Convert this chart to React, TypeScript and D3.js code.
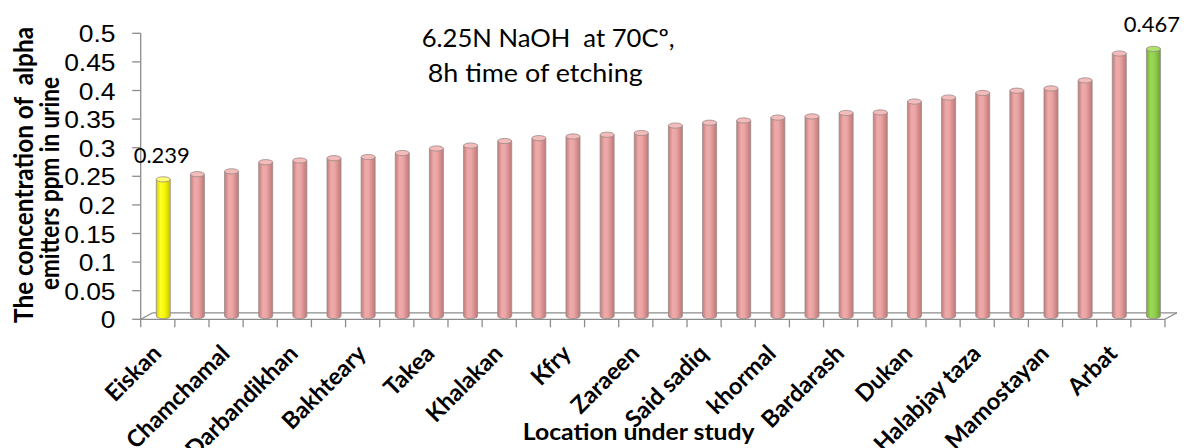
import React from 'react';
import * as d3 from 'd3';

const locations = [
  'Eiskan', '', 'Chamchamal', '', 'Darbandikhan', '', 'Bakhteary', '', 'Takea', '',
  'Khalakan', '', 'Kfry', '', 'Zaraeen', '', 'Said sadiq', '', 'khormal', '',
  'Bardarash', '', 'Dukan', '', 'Halabjay taza', '', 'Mamostayan', '', 'Arbat', '',
];

const concentrations = [
  0.239, 0.248, 0.253, 0.269, 0.272, 0.276, 0.278, 0.285, 0.293, 0.298,
  0.306, 0.311, 0.314, 0.317, 0.320, 0.333, 0.338, 0.342, 0.347, 0.349,
  0.355, 0.356, 0.375, 0.382, 0.390, 0.394, 0.398, 0.412, 0.459, 0.467,
];

const yTicks = [0, 0.05, 0.1, 0.15, 0.2, 0.25, 0.3, 0.35, 0.4, 0.45, 0.5];
const yTickLabels = ['0', '0.05', '0.1', '0.15', '0.2', '0.25', '0.3', '0.35', '0.4', '0.45', '0.5'];

const yTitleLines = ['The concentration of  alpha', 'emitters ppm in urine'];
const xTitle = 'Location under study';
const noteLines = ['6.25N NaOH  at 70Cº,', '8h time of etching'];

const W = 1190;
const H = 448;
const DX = 12;
const DY = -6.5;
const CAL = 'Lato, "Open Sans", sans-serif';
const ARIAL = '"Liberation Sans", Arial, sans-serif';
const PRE = { whiteSpace: 'pre' as const };

export default function App() {
  const idx = concentrations.map((_, i) => String(i));
  const x = d3.scaleBand<string>().domain(idx).range([140.7, 1165]).padding(0);
  const y = d3.scaleLinear().domain([0, 0.5]).range([319.3, 33.3]);
  const bw = x.bandwidth();
  const barW = 14;
  const rx = barW / 2;
  const ry = 2.6;
  const minV = d3.min(concentrations) as number;
  const maxV = d3.max(concentrations) as number;
  const x0 = x.range()[0];
  const x1 = x.range()[1];
  const y0 = y(0);
  const axisColor = '#8c8c8c';

  const kindOf = (v: number) => (v === minV ? 'yel' : v === maxV ? 'grn' : 'pnk');
  const topFill: Record<string, string> = { yel: '#ffff70', grn: '#aee36a', pnk: '#f3bcbb' };

  return (
    <svg width={W} height={H} style={{ position: 'absolute', left: 0, top: 0, background: '#fff' }}>
      <defs>
        <linearGradient id="pnk" x1="0" x2="1" y1="0" y2="0">
          <stop offset="0%" stopColor="#c07d7b" />
          <stop offset="30%" stopColor="#eeaaa9" />
          <stop offset="55%" stopColor="#eba5a4" />
          <stop offset="100%" stopColor="#bd7977" />
        </linearGradient>
        <linearGradient id="yel" x1="0" x2="1" y1="0" y2="0">
          <stop offset="0%" stopColor="#cfcf00" />
          <stop offset="30%" stopColor="#ffff2a" />
          <stop offset="60%" stopColor="#f7f700" />
          <stop offset="100%" stopColor="#c4c400" />
        </linearGradient>
        <linearGradient id="grn" x1="0" x2="1" y1="0" y2="0">
          <stop offset="0%" stopColor="#6fae33" />
          <stop offset="30%" stopColor="#9bd856" />
          <stop offset="60%" stopColor="#92d050" />
          <stop offset="100%" stopColor="#69a52f" />
        </linearGradient>
      </defs>

      {/* floor */}
      <g stroke={axisColor} strokeWidth={1.3} fill="none">
        <line x1={x0 + DX} y1={y0 + DY} x2={x1 + DX} y2={y0 + DY} />
        <line x1={x0} y1={y0} x2={x0 + DX} y2={y0 + DY} />
        <line x1={x1} y1={y0} x2={x1 + DX} y2={y0 + DY} />
      </g>

      {/* bars */}
      {concentrations.map((v, i) => {
        const cx = (x(String(i)) as number) + bw / 2 + DX / 2 - 0.5;
        const yb = y0 + DY / 2;
        const yt = y(v) + DY / 2;
        const k = kindOf(v);
        return (
          <g key={i}>
            <path
              d={`M${cx - rx},${yt} L${cx - rx},${yb} A${rx},${ry} 0 0 0 ${cx + rx},${yb} L${cx + rx},${yt} Z`}
              fill={`url(#${k})`}
              stroke="#9a8a8a"
              strokeWidth={0.8}
            />
            <ellipse cx={cx} cy={yt} rx={rx} ry={ry} fill={topFill[k]} stroke="#9a8a8a" strokeWidth={0.8} />
          </g>
        );
      })}

      {/* axes */}
      <g stroke={axisColor} strokeWidth={1.3} fill="none">
        <line x1={x0} y1={y(0.5)} x2={x0} y2={y0} />
        {yTicks.map((t) => (
          <line key={t} x1={x0 - 8.5} y1={y(t)} x2={x0} y2={y(t)} />
        ))}
        <line x1={x0} y1={y0} x2={x1} y2={y0} />
        {idx.map((d) => (
          <line key={d} x1={x(d) as number} y1={y0} x2={x(d) as number} y2={y0 + 8} />
        ))}
        <line x1={x1} y1={y0} x2={x1} y2={y0 + 8} />
      </g>

      {/* y tick labels */}
      {yTicks.map((t, i) => (
        <text
          key={t}
          transform={`translate(115.5,${y(t) + 9}) scale(1.1,1)`}
          textAnchor="end"
          fontFamily={ARIAL}
          fontSize={24}
          fill="#000"
        >
          {yTickLabels[i]}
        </text>
      ))}

      {/* x tick labels */}
      {locations.map((name, i) =>
        name ? (
          <text
            key={i}
            transform={`translate(${(x(String(i)) as number) + bw / 2 + 5},355) rotate(-45)`}
            textAnchor="end"
            fontFamily={CAL}
            fontWeight="bold"
            fontSize={23.5}
            fill="#000"
            style={PRE}
          >
            {name}
          </text>
        ) : null
      )}

      {/* data labels */}
      {concentrations.map((v, i) =>
        v === minV || v === maxV ? (
          <text
            key={i}
            x={(x(String(i)) as number) + bw / 2 + 4}
            y={y(v) - 20}
            textAnchor="middle"
            fontFamily={CAL}
            fontSize={22}
            fill="#000"
          >
            {v.toFixed(3)}
          </text>
        ) : null
      )}

      {/* y title */}
      <g fontFamily={CAL} fontWeight="bold" fontSize={27} fill="#000">
        <text transform="translate(33,175) rotate(-90)" textAnchor="middle" textLength={296} lengthAdjust="spacingAndGlyphs" style={PRE}>
          {yTitleLines[0]}
        </text>
        <text transform="translate(59,183.5) rotate(-90)" textAnchor="middle" textLength={213} lengthAdjust="spacingAndGlyphs" style={PRE}>
          {yTitleLines[1]}
        </text>
      </g>

      {/* x title */}
      <text x={522.7} y={440} fontFamily={CAL} fontWeight="bold" fontSize={23.5} textLength={232} lengthAdjust="spacingAndGlyphs" fill="#000">
        {xTitle}
      </text>

      {/* note */}
      <g fontFamily={CAL} fontSize={25} fill="#000">
        <text x={421.7} y={46.7} textLength={253} lengthAdjust="spacingAndGlyphs" style={PRE}>{noteLines[0]}</text>
        <text x={427.7} y={81.7} textLength={215} lengthAdjust="spacingAndGlyphs" style={PRE}>{noteLines[1]}</text>
      </g>
    </svg>
  );
}
